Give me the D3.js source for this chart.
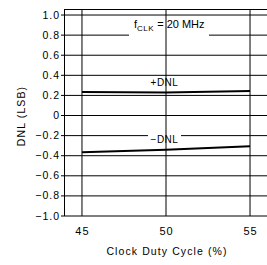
<!DOCTYPE html>
<html>
<head>
<meta charset="utf-8">
<script src="https://cdn.jsdelivr.net/npm/d3@7"></script>
<style>
  body { margin: 0; background: #fff; }
  svg text { font-family: "Liberation Sans", Arial, sans-serif; fill: #000; }
</style>
</head>
<body>
<svg id="chart" width="267" height="265"></svg>
<script>
'use strict';

// data
const dutyCycle = [45, 50, 55];
const dnlPlus = [0.235, 0.228, 0.245];
const dnlMinus = [-0.365, -0.34, -0.305];
const xTicks = [45, 50, 55];
const yTicks = [1.0, 0.8, 0.6, 0.4, 0.2, 0, -0.2, -0.4, -0.6, -0.8, -1.0];
const yTickLabels = ['1.0', '0.8', '0.6', '0.4', '0.2', '0', '\u22120.2', '\u22120.4', '\u22120.6', '\u22120.8', '\u22121.0'];

const svg = d3.select('#chart');

// scales
const x = d3.scaleLinear().domain([43.93, 56.07]).range([64, 268]);
const y = d3.scaleLinear().domain([-1.0, 1.06]).range([216, 9]);

// horizontal grid
const grid = svg.append('g');
grid.selectAll('line.h')
    .data(yTicks)
    .enter()
    .append('line')
    .attr('x1', 61)
    .attr('x2', 267)
    .attr('y1', d => y(d))
    .attr('y2', d => y(d))
    .attr('stroke', '#000')
    .attr('stroke-width', 1);

// gaps for the labels sitting on gridlines
grid.append('rect').attr('x', 129).attr('y', y(0.8) - 2).attr('width', 80).attr('height', 4).attr('fill', '#fff');
grid.append('rect').attr('x', 148).attr('y', y(-0.2) - 2).attr('width', 33).attr('height', 4).attr('fill', '#fff');

// vertical grid
grid.selectAll('line.v')
    .data(xTicks)
    .enter()
    .append('line')
    .attr('x1', d => x(d))
    .attr('x2', d => x(d))
    .attr('y1', y(1.06))
    .attr('y2', y(-1.0))
    .attr('stroke', '#000')
    .attr('stroke-width', 1);

// frame
svg.append('line').attr('x1', 64.5).attr('x2', 64.5).attr('y1', 9).attr('y2', 216).attr('stroke', '#000');
svg.append('line').attr('x1', 64).attr('x2', 267).attr('y1', 9.5).attr('y2', 9.5).attr('stroke', '#000');

// y tick labels
svg.append('g').selectAll('text')
    .data(yTicks)
    .enter()
    .append('text')
    .attr('x', 60)
    .attr('y', d => y(d) + 3.5)
    .attr('text-anchor', 'end')
    .attr('font-size', '10.5px')
    .attr('letter-spacing', '1px')
    .text((d, i) => yTickLabels[i]);

// x tick labels
svg.append('g').selectAll('text')
    .data(xTicks)
    .enter()
    .append('text')
    .attr('x', d => x(d) + 0.5)
    .attr('y', 235)
    .attr('text-anchor', 'middle')
    .attr('font-size', '11px')
    .attr('letter-spacing', '1px')
    .text(d => d);

// axis titles
svg.append('text')
    .attr('x', 167)
    .attr('y', 255)
    .attr('text-anchor', 'middle')
    .attr('font-size', '10.5px')
    .attr('letter-spacing', '1.1px')
    .text('Clock Duty Cycle (%)');

svg.append('text')
    .attr('transform', 'translate(25,116) rotate(-90)')
    .attr('text-anchor', 'middle')
    .attr('font-size', '10.5px')
    .attr('letter-spacing', '1.1px')
    .text('DNL (LSB)');

// curves
const line = d3.line()
    .x((d, i) => x(dutyCycle[i]))
    .y(d => y(d));

svg.append('path').datum(dnlPlus).attr('d', line).attr('fill', 'none').attr('stroke', '#000').attr('stroke-width', 2);
svg.append('path').datum(dnlMinus).attr('d', line).attr('fill', 'none').attr('stroke', '#000').attr('stroke-width', 2);

// annotations
const fclk = svg.append('text')
    .attr('x', 134)
    .attr('y', 28)
    .attr('font-size', '11px');
fclk.append('tspan').text('f');
fclk.append('tspan').attr('font-size', '8px').attr('dy', 2.5).attr('letter-spacing', '0.5px').text('CLK');
fclk.append('tspan').attr('dy', -2.5).text(' = 20 MHz');

svg.append('text')
    .attr('x', 164.5)
    .attr('y', 86)
    .attr('text-anchor', 'middle')
    .attr('font-size', '10px')
    .attr('letter-spacing', '0.5px')
    .text('+DNL');

svg.append('text')
    .attr('x', 164.5)
    .attr('y', 143)
    .attr('text-anchor', 'middle')
    .attr('font-size', '10px')
    .attr('letter-spacing', '0.5px')
    .text('\u2212DNL');
</script>
</body>
</html>
